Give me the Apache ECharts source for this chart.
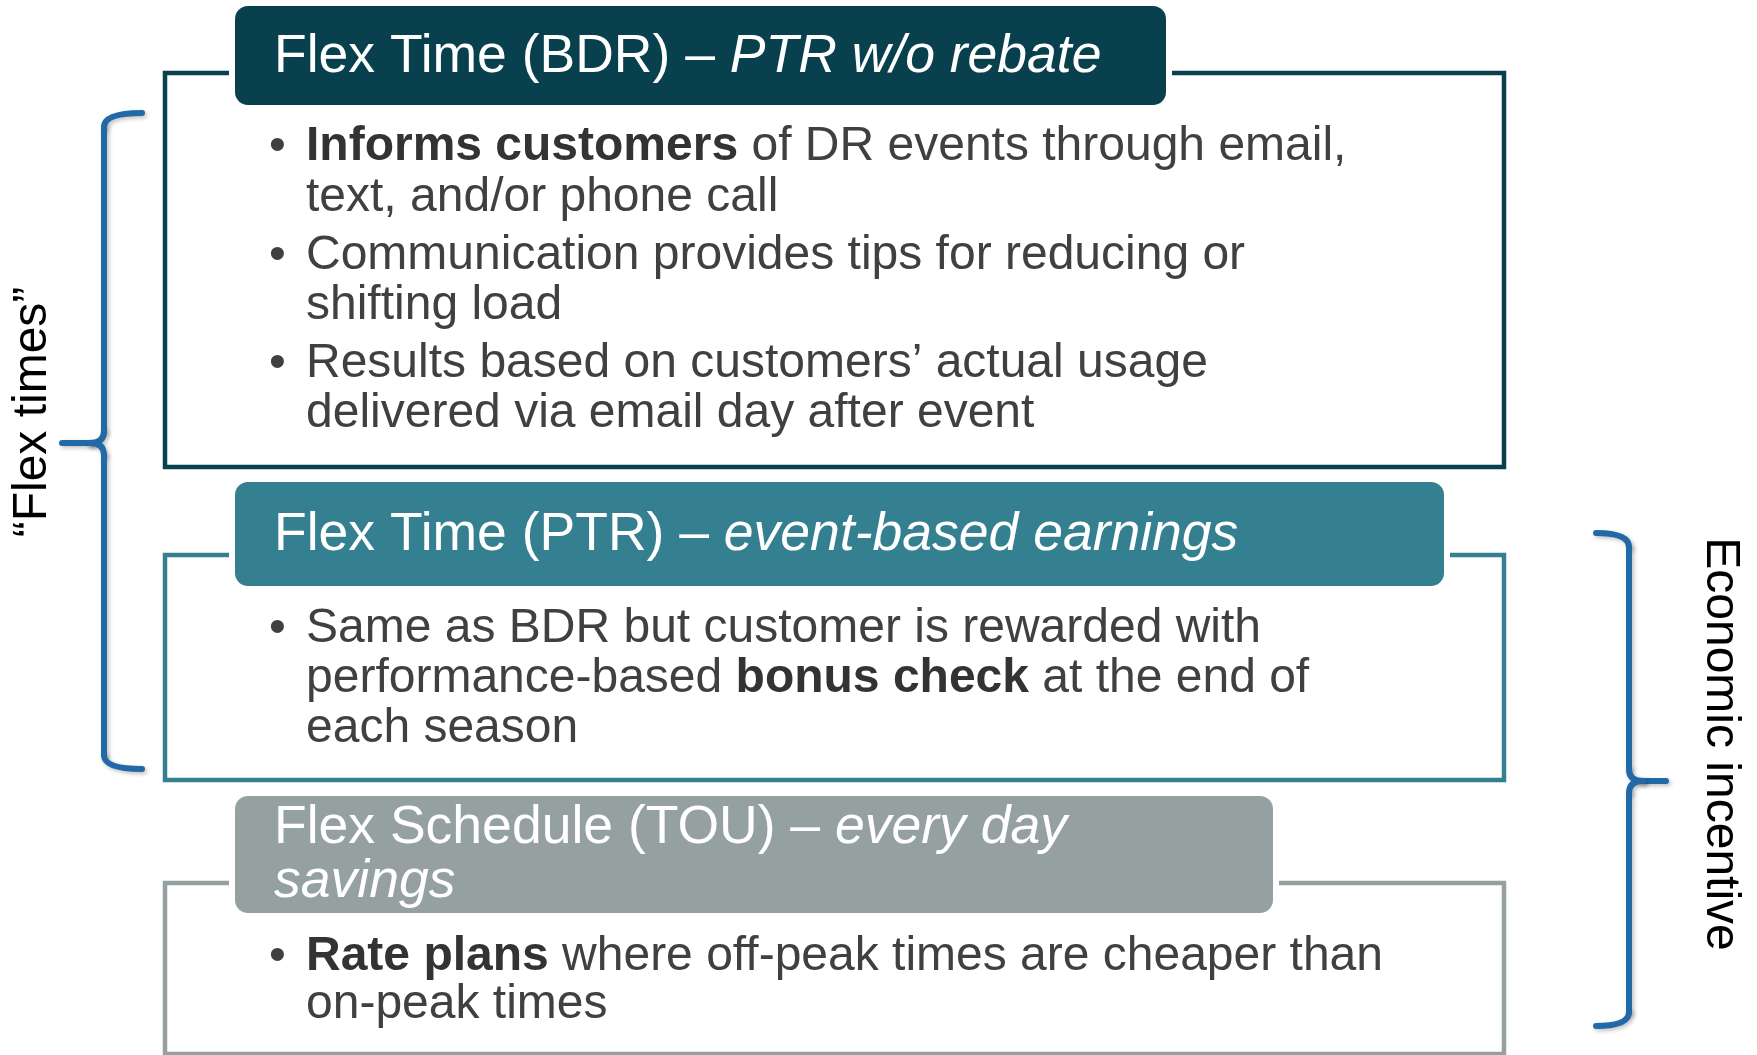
<!DOCTYPE html>
<html><head><meta charset="utf-8">
<script src="https://cdn.jsdelivr.net/npm/echarts@6/dist/echarts.min.js"></script>
<style>html,body{margin:0;padding:0;background:#fff}#c{width:1757px;height:1055px}</style>
</head><body><div id="c"></div>
<script>
// ---- content (text only) ----
const headerTitles = [
  ['Flex Time (BDR) – {i|PTR w/o rebate}'],
  ['Flex Time (PTR) – {i|event-based earnings}'],
  ['Flex Schedule (TOU) – {i|every day}', '{i|savings}']
];
const box1Bullets = [
  ['{b|Informs customers} of DR events through email,', 'text, and/or phone call'],
  ['Communication provides tips for reducing or', 'shifting load'],
  ['Results based on customers’ actual usage', 'delivered via email day after event']
];
const box2Bullets = [
  ['Same as BDR but customer is rewarded with', 'performance-based {b|bonus check} at the end of', 'each season']
];
const box3Bullets = [
  ['{b|Rate plans} where off-peak times are cheaper than', 'on-peak times']
];
const sideLabels = ['“Flex times”', 'Economic incentive'];

// ---- layout / style ----
const FONT = '"Liberation Sans", Arial, Helvetica, sans-serif';
const HF = 53.5, BF = 48;
const TEXT_COLOR = '#404040';
const BRACE_COLOR = '#2369A8';
const FRAME_L = 165, FRAME_R = 1504, GAP = 6;
const layout = [
  {color:'#08414D', hdr:[235,6,1166,105], top:73, bottom:467, lw:4.5, titleBase:[72], bulletBase:[[160,211],[269,319],[377,427]]},
  {color:'#347F90', hdr:[235,482,1444,586], top:555, bottom:780, lw:4.5, titleBase:[550], bulletBase:[[642,692,742]]},
  {color:'#95A0A1', hdr:[235,796,1273,913], top:883, bottom:1054, lw:4.5, titleBase:[843,897], bulletBase:[[970,1018]]}
];
const bulletSets = [box1Bullets, box2Bullets, box3Bullets];

const els = [];
function txt(x, base, text, size, fill) {
  return {
    type:'text', x:x, y: base - 0.27*size, z:10,
    style:{
      text:text, fill:fill, fontSize:size, fontFamily:FONT, verticalAlign:'middle', align:'left',
      rich:{
        i:{fontStyle:'italic', fontSize:size, fontFamily:FONT, fill:fill, color:fill},
        b:{fontWeight:'bold', fontSize:size, fontFamily:FONT, fill:'#333333', color:'#333333'}
      }
    }
  };
}

layout.forEach((L, k) => {
  const [hx1, hy1, hx2, hy2] = L.hdr;
  els.push({type:'polyline', z:1, shape:{points:[[hx1-GAP, L.top],[FRAME_L, L.top],[FRAME_L, L.bottom],[FRAME_R, L.bottom],[FRAME_R, L.top],[hx2+GAP, L.top]]},
    style:{stroke:L.color, lineWidth:L.lw, fill:null, lineJoin:'miter'}});
  els.push({type:'rect', z:5, shape:{x:hx1, y:hy1, width:hx2-hx1, height:hy2-hy1, r:13}, style:{fill:L.color}});
  headerTitles[k].forEach((t, j) => els.push(txt(274, L.titleBase[j], t, HF, '#ffffff')));
  bulletSets[k].forEach((lines, bi) => {
    const bases = L.bulletBase[bi];
    els.push(txt(269, bases[0], '•', BF, TEXT_COLOR));
    lines.forEach((line, li) => els.push(txt(306, bases[li], line, BF, TEXT_COLOR)));
  });
});

// braces built from quadratic curves and straight lines
function brace(endX, stemX, tipX, yTop, yMid, yBot) {
  const bs = {stroke:BRACE_COLOR, lineWidth:6, fill:null, lineCap:'round',
    shadowBlur:4, shadowColor:'rgba(0,0,0,0.25)', shadowOffsetX:2, shadowOffsetY:2};
  const r = 14, t = 12, dir = tipX > stemX ? 1 : -1;
  const parts = [
    {type:'bezierCurve', shape:{x1:endX, y1:yTop, cpx1:stemX, cpy1:yTop, x2:stemX, y2:yTop+r}},
    {type:'line', shape:{x1:stemX, y1:yTop+r, x2:stemX, y2:yMid-t}},
    {type:'bezierCurve', shape:{x1:stemX, y1:yMid-t, cpx1:stemX, cpy1:yMid, x2:stemX+dir*14, y2:yMid}},
    {type:'line', shape:{x1:stemX+dir*14, y1:yMid, x2:tipX, y2:yMid}},
    {type:'bezierCurve', shape:{x1:stemX+dir*14, y1:yMid, cpx1:stemX, cpy1:yMid, x2:stemX, y2:yMid+t}},
    {type:'line', shape:{x1:stemX, y1:yMid+t, x2:stemX, y2:yBot-r}},
    {type:'bezierCurve', shape:{x1:stemX, y1:yBot-r, cpx1:stemX, cpy1:yBot, x2:endX, y2:yBot}}
  ];
  parts.forEach(p => { p.z = 3; p.style = Object.assign({}, bs); els.push(p); });
}
brace(142, 104, 62, 113, 443, 769);
brace(1596, 1629, 1666, 533, 781, 1026);

// side labels
els.push({type:'text', x:33, y:412, rotation:Math.PI/2, z:10,
  style:{text:sideLabels[0], fill:'#000', fontSize:48, fontFamily:FONT, align:'center', verticalAlign:'middle'}});
els.push({type:'text', x:1720, y:744, rotation:-Math.PI/2, z:10,
  style:{text:sideLabels[1], fill:'#000', fontSize:48, fontFamily:FONT, align:'center', verticalAlign:'middle'}});

const chart = echarts.init(document.getElementById('c'), null, {renderer:'canvas'});
chart.setOption({animation:false, backgroundColor:'#ffffff', graphic:{elements:els}});
</script></body></html>
